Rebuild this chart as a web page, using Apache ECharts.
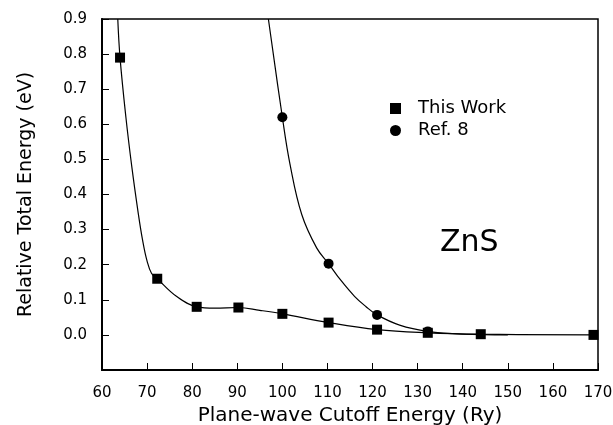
<!DOCTYPE html>
<html>
<head>
<meta charset="utf-8">
<script src="https://cdn.jsdelivr.net/npm/echarts@6/dist/echarts.min.js"></script>
<style>
html,body{margin:0;padding:0;background:#fff;}
#chart{width:613px;height:425px;}
</style>
</head>
<body>
<div id="chart"></div>
<script>
// Data
const xTickValues = [60, 70, 80, 90, 100, 110, 120, 130, 140, 150, 160, 170];
const yTickLabels = ['0.0', '0.1', '0.2', '0.3', '0.4', '0.5', '0.6', '0.7', '0.8', '0.9'];

const thisWorkX = [64, 72.25, 81, 90.25, 100, 110.25, 121, 132.25, 144, 169];
const thisWorkY = [0.79, 0.16, 0.08, 0.078, 0.06, 0.035, 0.015, 0.006, 0.002, 0.0];

const ref8X = [100, 110.25, 121, 132.25];
const ref8Y = [0.62, 0.203, 0.057, 0.01];

// fitted curves
const thisWorkCurveX = [63.5, 64, 65.3, 66.6, 68, 69, 70, 71, 72.25, 76.5, 81, 85, 90.25, 95, 100, 110.25, 121, 132.25, 144, 169];
const thisWorkCurveY = [0.9, 0.79, 0.62, 0.48, 0.35, 0.27, 0.21, 0.175, 0.16, 0.11, 0.08, 0.076, 0.078, 0.07, 0.06, 0.035, 0.015, 0.006, 0.002, 0.0];

const ref8CurveX = [96.9, 100, 101.7, 104.3, 107.6, 110.25, 113, 116, 118.5, 121, 126, 132.25, 140, 150];
const ref8CurveY = [0.9, 0.62, 0.486, 0.343, 0.248, 0.203, 0.155, 0.11, 0.081, 0.057, 0.028, 0.01, 0.002, 0.0];

const zip = (xs, ys) => xs.map((x, i) => [x, ys[i]]);

const chart = echarts.init(document.getElementById('chart'));
const font = 'DejaVu Sans, Verdana, sans-serif';

chart.setOption({
  animation: false,
  backgroundColor: '#fff',
  grid: {
    left: 102, right: 15, top: 19, bottom: 55,
    containLabel: false, outerBoundsMode: 'none',
    show: true, borderColor: '#000', borderWidth: 1.5, backgroundColor: 'transparent'
  },
  xAxis: {
    type: 'value', min: 60, max: 170, interval: 10,
    name: 'Plane-wave Cutoff Energy (Ry)', nameLocation: 'middle', nameGap: 34,
    nameTextStyle: { fontFamily: font, fontSize: 20, color: '#000' },
    axisLine: { show: true, onZero: false, lineStyle: { color: '#000', width: 2 } },
    axisTick: { show: true, inside: true, length: 7, lineStyle: { color: '#000', width: 1 } },
    axisLabel: {
      margin: 16, fontFamily: font, fontSize: 15, color: '#000',
      formatter: v => (xTickValues.indexOf(v) >= 0 ? String(v) : '')
    },
    splitLine: { show: false }
  },
  yAxis: {
    type: 'value', min: -0.1, max: 0.9, interval: 0.1,
    name: 'Relative Total Energy (eV)', nameLocation: 'middle', nameGap: 66,
    nameTextStyle: { fontFamily: font, fontSize: 19, color: '#000' },
    axisLine: { show: true, onZero: false, lineStyle: { color: '#000', width: 2 } },
    axisTick: { show: true, inside: true, length: 7, lineStyle: { color: '#000', width: 1 } },
    axisLabel: {
      margin: 15, fontFamily: font, fontSize: 15, color: '#000',
      formatter: v => {
        const i = Math.round(v * 10);
        return i >= 0 && i < yTickLabels.length ? yTickLabels[i] : '';
      }
    },
    splitLine: { show: false }
  },
  legend: {
    orient: 'vertical', left: 385, top: 94,
    itemWidth: 11, itemHeight: 11, itemGap: 3,
    textStyle: { fontFamily: font, fontSize: 18, lineHeight: 19, color: '#000', padding: [0, 0, 0, 12] },
    data: [
      { name: 'This Work', icon: 'rect' },
      { name: 'Ref. 8', icon: 'circle' }
    ]
  },
  graphic: [{
    type: 'text', left: 440, top: 228,
    style: { text: 'ZnS', font: '30px ' + font, fill: '#000' }
  }],
  series: [
    {
      name: 'This Work curve', type: 'line', data: zip(thisWorkCurveX, thisWorkCurveY),
      smooth: 0.4, showSymbol: false, symbol: 'none',
      lineStyle: { color: '#000', width: 1.2 }, z: 2, silent: true
    },
    {
      name: 'Ref. 8 curve', type: 'line', data: zip(ref8CurveX, ref8CurveY),
      smooth: 0.4, showSymbol: false, symbol: 'none',
      lineStyle: { color: '#000', width: 1.2 }, z: 2, silent: true
    },
    {
      name: 'This Work', type: 'scatter', data: zip(thisWorkX, thisWorkY),
      symbol: 'rect', symbolSize: 10, itemStyle: { color: '#000', opacity: 1 }, z: 3
    },
    {
      name: 'Ref. 8', type: 'scatter', data: zip(ref8X, ref8Y),
      symbol: 'circle', symbolSize: 10, itemStyle: { color: '#000', opacity: 1 }, z: 3
    }
  ]
});
</script>
</body>
</html>
